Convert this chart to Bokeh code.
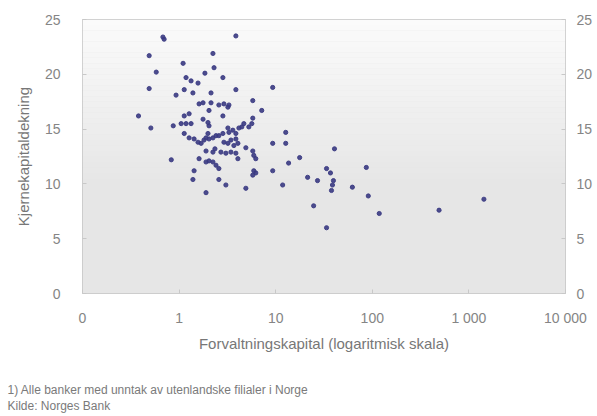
from bokeh.plotting import figure
from bokeh.models import (LinearAxis, FixedTicker, BoxAnnotation, Title, Range1d, ColumnDataSource)
from bokeh.embed import file_html
from bokeh.resources import INLINE

# Total assets (NOK bn, log scale) and core capital ratio (%) per bank
assets = [0.68, 0.70, 3.87, 0.49, 0.58, 0.49, 0.38, 0.51, 0.83, 1.10,
          2.24, 2.30, 1.85, 2.84, 1.18, 1.33, 1.57, 3.87, 9.31, 0.93,
          1.13, 1.39, 2.14, 1.61, 1.77, 2.14, 2.58, 2.91, 3.20, 3.28,
          5.79, 7.17, 2.04, 2.84, 1.13, 1.27, 0.87, 1.05, 1.18, 1.33,
          1.77, 1.99, 2.04, 4.68, 5.27, 5.66, 3.20, 3.28, 3.60, 3.87,
          4.16, 4.46, 1.13, 1.27, 1.43, 1.57, 1.69, 1.81, 1.90, 2.04,
          2.24, 2.41, 2.58, 2.84, 1.99, 2.91, 3.20, 3.44, 3.69, 4.06,
          3.87, 4.91, 5.79, 5.93, 6.22, 9.31, 1.90, 2.24, 2.35, 2.71,
          3.05, 3.44, 3.87, 4.06, 1.61, 1.90, 2.04, 2.24, 2.41, 2.58,
          5.93, 6.22, 5.79, 9.31, 1.43, 1.39, 2.58, 3.05, 4.91, 1.90,
          11.8, 12.7, 12.7, 13.6, 17.7, 21.4, 27.1, 33.6, 36.9, 39.6,
          38.7, 37.8, 40.6, 62.2, 86.7, 90.9, 24.7, 33.6, 118.0, 491.0,
          1430.0, 5.79]
core_capital = [23.4, 23.2, 23.5, 21.7, 20.2, 18.7, 16.2, 15.1, 12.2, 21.0,
                21.9, 20.6, 20.1, 19.7, 19.7, 19.4, 19.2, 18.6, 18.8, 18.1,
                18.6, 18.3, 18.3, 17.3, 17.4, 17.4, 17.2, 17.3, 17.0, 17.2,
                17.6, 16.7, 16.7, 16.2, 16.2, 16.4, 15.3, 15.5, 15.5, 15.5,
                15.9, 15.6, 15.3, 15.5, 15.2, 15.5, 15.1, 14.7, 14.9, 14.6,
                15.1, 15.2, 14.6, 14.2, 14.1, 13.8, 13.7, 14.0, 14.2, 14.1,
                14.2, 14.4, 14.4, 14.6, 14.6, 13.8, 13.7, 14.0, 13.5, 13.7,
                14.1, 13.3, 13.0, 12.6, 12.3, 13.7, 13.0, 12.9, 13.2, 12.9,
                12.8, 12.9, 12.8, 12.3, 12.3, 12.0, 12.1, 12.0, 11.7, 11.4,
                11.2, 11.0, 10.8, 11.2, 11.2, 10.4, 10.4, 9.9, 9.6, 9.2,
                9.9, 14.7, 13.7, 11.9, 12.4, 10.6, 10.3, 11.4, 11.0, 10.3,
                9.9, 9.4, 13.2, 9.7, 11.5, 8.9, 8.0, 6.0, 7.3, 7.6,
                8.6, 16.0]

x_ticks = [0.1, 1, 10, 100, 1000, 10000]
x_tick_labels = ["0", "1", "10", "100", "1 000", "10 000"]
y_ticks = [0, 5, 10, 15, 20, 25]

x_title = "Forvaltningskapital (logaritmisk skala)"
y_title = "Kjernekapitaldekning"
footnote = "1) Alle banker med unntak av utenlandske filialer i Norge"
source_note = "Kilde: Norges Bank"

FONT = "Liberation Sans"
TXT = "#858585"

p = figure(width=597, height=416, x_axis_type="log",
           x_range=Range1d(0.1, 10000), y_range=Range1d(0, 25),
           output_backend="svg", toolbar_location=None,
           min_border_left=82, min_border_right=32,
           min_border_top=19, min_border_bottom=123)
p.background_fill_color = "#e6e6e6"
p.border_fill_color = "white"
p.outline_line_color = "#c4c4c4"
p.grid.visible = False

# vertical gradient background
n = 50
for i in range(n):
    y0 = 25 * i / n
    y1 = 25 * (i + 1) / n
    t = (25 - (y0 + y1) / 2) / 25
    g = int(round(251 - 21 * min(1.0, t / 0.6)))
    p.add_layout(BoxAnnotation(bottom=y0, top=y1, fill_color=(g, g, g),
                               fill_alpha=1, line_color=None, level="underlay"))

src = ColumnDataSource(dict(x=assets, y=core_capital))
p.scatter("x", "y", source=src, size=4.2, marker="circle",
          fill_color="#3a3a82", line_color="#3a3a82", alpha=0.9)

def style_axis(ax):
    ax.axis_line_color = None
    ax.major_tick_line_color = "#c8c8c8"
    ax.major_tick_in = 4
    ax.major_tick_out = 0
    ax.minor_tick_line_color = None
    ax.major_label_text_font = FONT
    ax.major_label_text_font_size = "14px"
    ax.major_label_text_color = TXT
    ax.axis_label_text_font = FONT
    ax.axis_label_text_font_size = "15px"
    ax.axis_label_text_font_style = "normal"
    ax.axis_label_text_color = "#777777"

xa = p.xaxis[0]
xa.ticker = FixedTicker(ticks=x_ticks)
xa.major_label_overrides = {t: l for t, l in zip(x_ticks, x_tick_labels)}
xa.axis_label = x_title
style_axis(xa)
xa.major_label_standoff = 16
xa.axis_label_standoff = 6

ya = p.yaxis[0]
ya.ticker = FixedTicker(ticks=y_ticks)
ya.axis_label = y_title
style_axis(ya)
ya.major_label_standoff = 22
ya.axis_label_standoff = 10

yr = LinearAxis(ticker=FixedTicker(ticks=y_ticks))
style_axis(yr)
yr.major_label_standoff = 11
p.add_layout(yr, "right")

def note(text, standoff):
    return Title(text=text, align="left", offset=-75, standoff=standoff,
                 text_font=FONT, text_font_size="12px", text_font_style="normal",
                 text_color="#7a7a7a")

p.add_layout(note(" ", 10), "below")          # spacing below the axis title
p.add_layout(note(footnote, 0), "below")
p.add_layout(note(source_note, 0), "below")

open("out.html", "w").write(file_html(p, INLINE))
